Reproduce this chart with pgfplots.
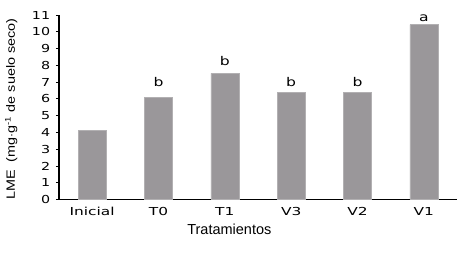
\documentclass[border=0pt]{standalone}
\usepackage{pgfplots}
\pgfplotsset{compat=1.18}
\usepackage{fontspec}
\setmainfont{Liberation Sans}
\newfontfamily\verd{DejaVu Sans}
\definecolor{barfill}{RGB}{154,151,154}
\definecolor{baredge}{RGB}{178,176,178}
\begin{document}
\begin{tikzpicture}[x=1pt,y=1pt]
\path[use as bounding box] (-59,-53.5) rectangle (407,199.5);
\begin{axis}[
  at={(0,0)}, anchor=south west,
  scale only axis,
  width=398pt, height=184.5pt,
  xmin=-0.5, xmax=5.5,
  ymin=0, ymax=11,
  axis lines*=left,
  axis line style={line width=1.3pt, black},
  xtick=data,
  xticklabels={Inicial,T0,T1,V3,V2,V1},
  ytick={0,1,...,11},
  major x tick style={draw=none},
  major y tick style={line width=0.8pt, black},
  tick align=outside,
  major tick length=3pt,
  /pgf/number format/assume math mode=true,
  xticklabel style={font=\verd\fontsize{11}{12}\selectfont, xscale=1.4, yshift=-1pt},
  yticklabel style={font=\verd\fontsize{11}{12}\selectfont, xscale=1.3, xshift=-1pt},
  xlabel={Tratamientos},
  ylabel={LME\ \ (mg$\cdot$g\textsuperscript{-1} de suelo seco)},
  xlabel style={font=\fontsize{14.5}{16}\selectfont, at={(axis description cs:0.428,-0.192)}, anchor=base},
  ylabel style={font=\fontsize{12}{14}\selectfont, at={(axis description cs:-0.12,0.49)}, anchor=center, xscale=1.2},
  clip=false,
]
\addplot[ybar, bar width=28pt, fill=barfill, draw=baredge, line width=0.6pt] table {
x y
0 4.12
1 6.08
2 7.52
3 6.40
4 6.40
5 10.42
};
\addplot[draw=none, mark=none, nodes near coords, point meta=explicit symbolic,
  nodes near coords style={anchor=base, font=\verd\fontsize{12}{13}\selectfont, xscale=1.3, black, inner sep=0pt}]
  table[meta=lab] {
x y lab
1 6.71 b
2 7.96 b
3 6.71 b
4 6.71 b
5 10.64 a
};
\end{axis}
\end{tikzpicture}
\end{document}
